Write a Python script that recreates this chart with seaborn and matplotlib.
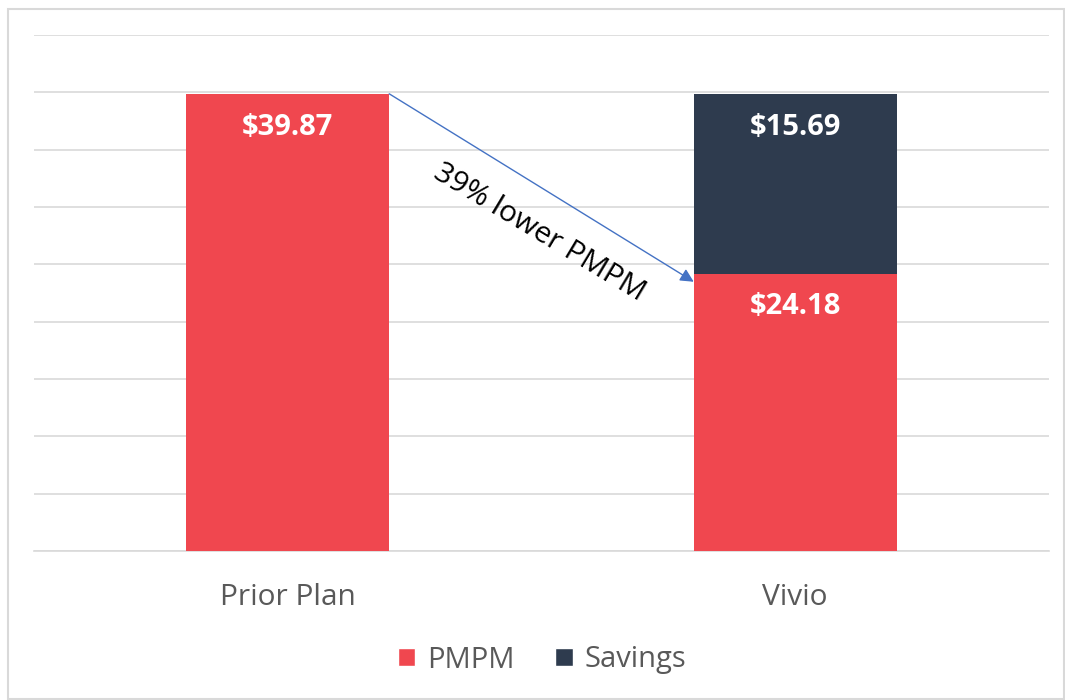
import matplotlib
matplotlib.use("Agg")
import matplotlib.pyplot as plt
import seaborn as sns
import pandas as pd
from matplotlib.patches import Patch, Rectangle

categories = ["Prior Plan", "Vivio"]
pmpm = [39.87, 24.18]
savings = [0.0, 15.69]
series_names = ["PMPM", "Savings"]
annotation_text = "39% lower PMPM"

red = "#F0474F"
navy = "#2E3B4E"
grid_c = "#D9D9D9"
txt_c = "#595959"

sns.set_theme(style="white")
plt.rcParams["font.family"] = ["Open Sans", "DejaVu Sans"]

df = pd.DataFrame({"cat": categories, "pmpm": pmpm, "savings": savings})
df["total"] = df["pmpm"] + df["savings"]

fig = plt.figure(figsize=(10.65, 7), dpi=100)
ax = fig.add_axes([34/1065, 1-551/700, (1049-34)/1065, (551-35)/700])

sns.barplot(data=df, x="cat", y="total", color=navy, width=0.4, ax=ax,
            saturation=1, zorder=3, linewidth=0, edgecolor="none")
sns.barplot(data=df, x="cat", y="pmpm", color=red, width=0.4, ax=ax,
            saturation=1, zorder=3, linewidth=0, edgecolor="none")

ax.set_ylim(0, 45)
ax.set_xlim(-0.5, 1.5)
ax.set_yticks(range(0, 46, 5))
ax.yaxis.grid(True, color=grid_c, linewidth=1.2, zorder=0)
ax.set_axisbelow(True)
ax.set_yticklabels([])
ax.tick_params(axis="y", length=0)
ax.tick_params(axis="x", length=0, labelsize=21.5, labelcolor=txt_c, pad=23)
ax.set_xlabel("")
ax.set_ylabel("")
for s in ["top", "right", "left"]:
    ax.spines[s].set_visible(False)
ax.spines["bottom"].set_color(grid_c)
ax.spines["bottom"].set_linewidth(1.2)

off = 2.9
for i in range(len(categories)):
    ax.text(i, pmpm[i] - off, f"${pmpm[i]:.2f}", ha="center", va="center",
            color="white", fontsize=21, fontweight="bold", zorder=5)
    if savings[i] > 0:
        top = pmpm[i] + savings[i]
        ax.text(i, top - off, f"${savings[i]:.2f}", ha="center", va="center",
                color="white", fontsize=21, fontweight="bold", zorder=5)

ax.annotate("", xy=(0.8, pmpm[1] - 0.7), xytext=(0.2, pmpm[0]),
            arrowprops=dict(arrowstyle="-|>", color="#4472C4", lw=1,
                            mutation_scale=20, shrinkA=0, shrinkB=0),
            zorder=6)
ax.text(0.496, 27.8, annotation_text, rotation=-31, ha="center", va="center",
        fontsize=21.5, color="black", rotation_mode="anchor", zorder=6)

handles = [Patch(facecolor=red, label=series_names[0]),
           Patch(facecolor=navy, label=series_names[1])]
fig.legend(handles=handles, loc="center", bbox_to_anchor=(542/1065, 1-660/700),
           ncol=2, frameon=False, fontsize=21, labelcolor=txt_c,
           handlelength=0.6, handleheight=0.6, columnspacing=1.4,
           handletextpad=0.4)

fig.patches.append(Rectangle((8/1065, 1/700), 1056/1065, 690/700,
                             transform=fig.transFigure, fill=False,
                             edgecolor=grid_c, linewidth=1.5))

fig.savefig("out.png", dpi=100)
